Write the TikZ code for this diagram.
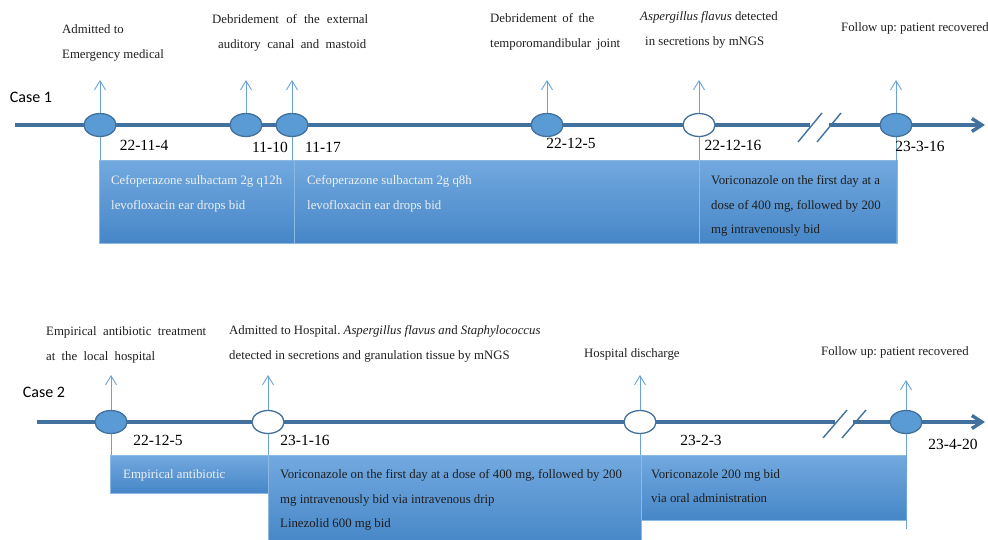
\documentclass[tikz,border=0pt]{standalone}
\usepackage{fontspec}
\setmainfont{Liberation Serif}
\newfontfamily\casefont{Carlito}
\usetikzlibrary{arrows.meta,shapes.geometric}
\definecolor{axisblue}{HTML}{41719C}
\definecolor{dotblue}{HTML}{5B9BD5}
\definecolor{pinblue}{HTML}{6AA3D9}
\definecolor{boxtop}{HTML}{72A9DF}
\definecolor{boxbot}{HTML}{4686C7}
\definecolor{inkdark}{HTML}{1E1E1E}
\newcommand{\spread}[2]{\makebox[#1][s]{#2}}
\frenchspacing
\tikzset{
  timeline/.style={draw=axisblue, line width=3.4pt},
  breakmark/.style={draw=axisblue, line width=1.4pt},
  event/.style={ellipse, draw=axisblue, line width=1.3pt, fill=dotblue,
    minimum width=32pt, minimum height=23pt, inner sep=0pt},
  openevent/.style={event, fill=white},
  pin/.style={draw=pinblue, line width=0.9pt, -{Straight Barb[length=9pt,width=11pt]}},
  drop/.style={draw=pinblue, line width=0.9pt},
  phase/.style={anchor=north west, inner sep=0pt, draw=dotblue!70!white,
    line width=0.6pt, top color=boxtop, bottom color=boxbot},
  note/.style={anchor=north west, inner sep=0pt, align=left, text=inkdark,
    font=\fontsize{12.8}{24.8}\selectfont},
  boxtext/.style={anchor=north west, inner sep=0pt, align=left,
    font=\fontsize{12.8}{24.5}\selectfont},
  date/.style={inner sep=0pt, font=\fontsize{15.5}{18}\selectfont},
  casetag/.style={inner sep=0pt, font=\casefont\fontsize{16}{18}\selectfont}
}
\begin{document}
\begin{tikzpicture}[x=1pt,y=-1pt]
    \useasboundingbox (0,0) rectangle (988,540);
    % Case 1
    \node[casetag] (c1) at (31,97) {Case 1};
    \node[phase, minimum width=195pt, minimum height=83pt] (p11) at (99,160) {};
    \node[phase, minimum width=405pt, minimum height=83pt] (p12) at (294,160) {};
    \node[phase, minimum width=198pt, minimum height=83pt] (p13) at (699,160) {};
    \node[boxtext, text=white!94!black] (b11) at (111,175.3) {Cefoperazone sulbactam 2g q12h\\levofloxacin ear drops bid};
    \node[boxtext, text=white!94!black] (b12) at (307,175.3) {Cefoperazone sulbactam 2g q8h\\levofloxacin ear drops bid};
    \node[boxtext, text=inkdark] (b13) at (711,175.3) {Voriconazole on the first day at a\\dose of 400 mg, followed by 200\\mg intravenously bid};
    \draw[timeline] (15,125) -- (810,125);
    \draw[timeline, -{Straight Barb[length=10pt,width=13pt]}] (829,125) -- (985,125);
    \draw[breakmark] (798,142) -- (822,113);
    \draw[breakmark] (817,142) -- (841,113);
    \node[event] (e11) at (100,125) {};
    \node[event] (e12) at (246,125) {};
    \node[event] (e13) at (292,125) {};
    \node[event] (e14) at (547,125) {};
    \node[openevent] (e15) at (699,125) {};
    \node[event] (e16) at (896,125) {};
    \foreach \e in {e11,e12,e13,e14,e15,e16}
      \draw[pin] (\e.north) -- (\e.north |- 0,80);
    \draw[drop] (e11.south) -- (e11.south |- 0,160);
    \draw[drop] (e13.south) -- (e13.south |- 0,160);
    \draw[drop] (e15.south) -- (e15.south |- 0,160);
    \draw[drop] (e16.south) -- (e16.south |- 0,243);
    \node[date] (d11) at (144,145) {22-11-4};
    \node[date] (d12) at (270,147) {11-10};
    \node[date] (d13) at (323,147) {11-17};
    \node[date] (d14) at (571,143) {22-12-5};
    \node[date] (d15) at (733,145) {22-12-16};
    \node[date] (d16) at (920,146) {23-3-16};
    \node[note] (l11) at (62,24.3) {Admitted to\\Emergency medical};
    \node[note] (l12) at (212,14.3) {\spread{156pt}{Debridement of the external}\\\hspace*{6pt}\spread{148pt}{auditory canal and mastoid}};
    \node[note] (l13) at (490,13.3) {\spread{104pt}{Debridement of the}\\\spread{130pt}{temporomandibular joint}};
    \node[note] (l14) at (640,11.3) {\textit{Aspergillus flavus} detected\\\hspace*{5pt}in secretions by mNGS};
    \node[note] (l15) at (841,22.3) {Follow up: patient recovered};
    % Case 2
    \node[casetag] (c2) at (44,392) {Case 2};
    \node[phase, minimum width=158pt, minimum height=38pt] (p21) at (110,455) {};
    \node[phase, minimum width=373pt, minimum height=90pt] (p22) at (268,455) {};
    \node[phase, minimum width=265pt, minimum height=65pt] (p23) at (641,455) {};
    \node[boxtext, text=white!94!black] (b21) at (123,469.3) {Empirical antibiotic};
    \node[boxtext, text=inkdark] (b22) at (280,469.3) {Voriconazole on the first day at a dose of 400 mg, followed by 200\\mg intravenously bid via intravenous drip\\Linezolid 600 mg bid};
    \node[boxtext, text=inkdark] (b23) at (651,469.3) {Voriconazole 200 mg bid\\via oral administration};
    \draw[timeline] (37,422) -- (835,422);
    \draw[timeline, -{Straight Barb[length=10pt,width=13pt]}] (853,422) -- (985,422);
    \draw[breakmark] (823,438) -- (847,410);
    \draw[breakmark] (842,438) -- (866,410);
    \node[event] (e21) at (111,422) {};
    \node[openevent] (e22) at (268,422) {};
    \node[openevent] (e23) at (640,422) {};
    \node[event] (e24) at (906,422) {};
    \foreach \e in {e21,e22,e23}
      \draw[pin] (\e.north) -- (\e.north |- 0,375);
    \draw[pin] (e24.north) -- (e24.north |- 0,380);
    \draw[drop] (e21.south) -- (e21.south |- 0,455);
    \draw[drop] (e22.south) -- (e22.south |- 0,455);
    \draw[drop] (e23.south) -- (e23.south |- 0,455);
    \draw[drop] (e24.south) -- (e24.south |- 0,529);
    \node[date] (d21) at (158,440) {22-12-5};
    \node[date] (d22) at (305,440) {23-1-16};
    \node[date] (d23) at (701,440) {23-2-3};
    \node[date] (d24) at (953,444) {23-4-20};
    \node[note] (l21) at (46,326.3) {\spread{160pt}{Empirical antibiotic treatment}\\\spread{109pt}{at the local hospital}};
    \node[note] (l22) at (229,325.3) {Admitted to Hospital. \textit{Aspergillus flavus an}d \textit{Staphylococcus}\\detected in secretions and granulation tissue by mNGS};
    \node[note] (l23) at (584,348.3) {Hospital discharge};
    \node[note] (l24) at (821,346.3) {Follow up: patient recovered};
\end{tikzpicture}
\end{document}
